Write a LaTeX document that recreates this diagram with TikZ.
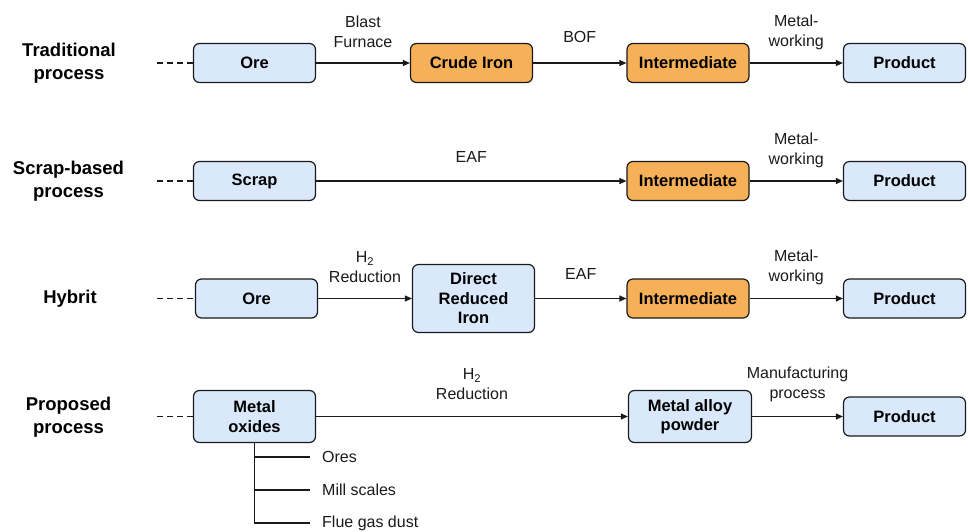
\documentclass[tikz,border=0pt]{standalone}
\usepackage{fontspec}
\setmainfont{Liberation Sans}
\usetikzlibrary{arrows.meta,calc}
\definecolor{boxblue}{HTML}{DAE8FC}
\definecolor{boxorange}{HTML}{F6B057}
\definecolor{edgec}{HTML}{1A1A1A}
\begin{document}
\begin{tikzpicture}[x=1pt,y=-1pt,
 box/.style={draw=edgec, line width=1.2pt, rounded corners=6pt, fill=boxblue, minimum width=122pt, minimum height=39pt, align=center, font=\fontsize{16.5}{19.5}\selectfont\bfseries, inner sep=0pt},
 obox/.style={box, fill=boxorange},
 flow/.style={draw=edgec, line width=1.1pt, -{Triangle[length=7pt,width=6pt]}},
 lead/.style={draw=edgec, line width=1.1pt, dash pattern=on 6pt off 4pt},
 lbl/.style={font=\fontsize{16}{20}\selectfont, align=center, inner sep=0pt, text=edgec},
 rowlbl/.style={font=\fontsize{18.5}{23}\selectfont\bfseries, align=center, inner sep=0pt},
 leaf/.style={font=\fontsize{16}{20}\selectfont, anchor=west, inner sep=0pt, text=edgec},
 branch/.style={draw=edgec, line width=1.1pt}]
\useasboundingbox (0,0) rectangle (968,531);

% row labels
\node[rowlbl] (r1) at (69,63.5) {Traditional\\process};
\node[rowlbl] (r2) at (68.5,181.5) {Scrap-based\\process};
\node[rowlbl] (r3) at (70,298.5) {Hybrit};
\node[rowlbl] (r4) at (68.5,417.5) {Proposed\\process};

% row 1
\node[box]  (a1) at (254.5,63) {Ore};
\node[obox] (b1) at (471.5,63) {Crude Iron};
\node[obox] (c1) at (688,63) {Intermediate};
\node[box]  (d1) at (904.5,63) {Product};
\coordinate (s1) at (157,63);
\draw[lead] (s1) -- (a1.west);
\draw[flow] (a1) -- node[lbl, yshift=31pt]{Blast\\Furnace} (b1);
\draw[flow] (b1) -- node[lbl, yshift=26pt]{BOF} (c1);
\draw[flow] (c1) -- node[lbl, yshift=31pt]{Metal-\\working} (d1);

% row 2
\node[box]  (a2) at (254.5,181) {Scrap};
\node[obox] (c2) at (688,181) {Intermediate};
\node[box]  (d2) at (904.5,181) {Product};
\coordinate (s2) at (157,181);
\draw[lead] (s2) -- (a2.west);
\draw[flow] (a2) -- node[lbl, yshift=24pt]{EAF} (c2);
\draw[flow] (c2) -- node[lbl, yshift=31pt]{Metal-\\working} (d2);

% row 3
\node[box]  (a3) at (256.5,298.5) {Ore};
\node[box, minimum height=68pt] (b3) at (473.5,298.5) {Direct\\Reduced\\Iron};
\node[obox] (c3) at (688,298.5) {Intermediate};
\node[box]  (d3) at (904.5,298.5) {Product};
\coordinate (s3) at (157,298.5);
\draw[lead] (s3) -- (a3.west);
\draw[flow] (a3) -- node[lbl, yshift=31pt]{H\textsubscript{2}\\Reduction} (b3);
\draw[flow] (b3) -- node[lbl, yshift=25pt]{EAF} (c3);
\draw[flow] (c3) -- node[lbl, yshift=31pt]{Metal-\\working} (d3);

% row 4
\node[box, minimum height=52pt] (a4) at (254.5,416.5) {Metal\\oxides};
\node[box, minimum height=52pt, minimum width=123pt] (c4) at (690,416.5) {Metal alloy\\powder};
\node[box]  (d4) at (904.5,416.5) {Product};
\coordinate (s4) at (157,416.5);
\draw[lead] (s4) -- (a4.west);
\draw[flow] (a4) -- node[lbl, yshift=32pt]{H\textsubscript{2}\\Reduction} (c4);
\draw[flow] (c4) -- node[lbl, yshift=32pt]{Manufacturing\\process} (d4);

% sources
\node[leaf] (l1) at (322,457) {Ores};
\node[leaf] (l2) at (322,490) {Mill scales};
\node[leaf] (l3) at (322,523) {Flue gas dust};
\draw[branch] (a4.south) -- (a4.south |- l3.west) -- ([xshift=-12pt]l3.west);
\draw[branch] (a4.south |- l1.west) -- ([xshift=-12pt]l1.west);
\draw[branch] (a4.south |- l2.west) -- ([xshift=-12pt]l2.west);
\end{tikzpicture}
\end{document}
